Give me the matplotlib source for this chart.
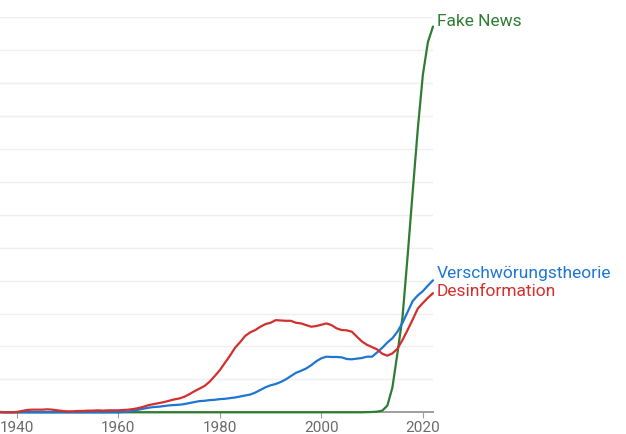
from matplotlib import pyplot as plt
import numpy as np

# yearly values (arbitrary units, 1 unit = 1 gridline)
years = np.arange(1936, 2023)

desinformation = [
    0.0, 0.0, 0.0, 0.0, 0.01, 0.04, 0.07, 0.08, 0.08, 0.08,      # 1936-1945
    0.09, 0.08, 0.06, 0.04, 0.03, 0.03, 0.04, 0.04, 0.05, 0.05,  # 1946-1955
    0.06, 0.05, 0.06, 0.06, 0.06, 0.07, 0.08, 0.10, 0.13, 0.17,  # 1956-1965
    0.22, 0.25, 0.28, 0.31, 0.35, 0.39, 0.42, 0.47, 0.55, 0.64,  # 1966-1975
    0.72, 0.80, 0.93, 1.10, 1.28, 1.50, 1.72, 1.96, 2.13, 2.32,  # 1976-1985
    2.43, 2.50, 2.60, 2.68, 2.72, 2.80, 2.79, 2.78, 2.78, 2.72,  # 1986-1995
    2.70, 2.65, 2.60, 2.62, 2.66, 2.70, 2.65, 2.55, 2.50, 2.49,  # 1996-2005
    2.45, 2.30, 2.15, 2.05, 1.98, 1.91, 1.78, 1.72, 1.79, 1.93,  # 2006-2015
    2.20, 2.50, 2.82, 3.15, 3.32, 3.48, 3.62,                    # 2016-2022
]

verschwoerung = [
    0.02, 0.01, 0.0, 0.0, 0.0, 0.0, 0.0, 0.0, 0.0, 0.0,          # 1936-1945
    0.0, 0.0, 0.0, 0.0, 0.0, 0.0, 0.0, 0.0, 0.0, 0.0,            # 1946-1955
    0.0, 0.0, 0.0, 0.0, 0.0, 0.01, 0.02, 0.05, 0.08, 0.11,       # 1956-1965
    0.14, 0.16, 0.17, 0.19, 0.21, 0.22, 0.23, 0.25, 0.28, 0.31,  # 1966-1975
    0.34, 0.35, 0.37, 0.38, 0.40, 0.41, 0.43, 0.45, 0.48, 0.51,  # 1976-1985
    0.54, 0.60, 0.68, 0.76, 0.82, 0.86, 0.92, 1.00, 1.10, 1.20,  # 1986-1995
    1.26, 1.33, 1.43, 1.55, 1.64, 1.69, 1.68, 1.68, 1.67, 1.62,  # 1996-2005
    1.61, 1.63, 1.65, 1.69, 1.69, 1.82, 1.96, 2.12, 2.25, 2.45,  # 2006-2015
    2.72, 3.05, 3.38, 3.55, 3.68, 3.85, 4.01,                    # 2016-2022
]

fake_news = [0.0] * 73 + [
    0.005, 0.01, 0.02, 0.05, 0.2, 0.75, 1.8,                     # 2009-2015
    2.9, 4.75, 6.7, 8.6, 10.25, 11.25, 11.72,                    # 2016-2022
]

series = [
    ('Fake News', fake_news, '#2e7d32', 5),
    ('Verschwörungstheorie', verschwoerung, '#1e76d3', 7),
    ('Desinformation', desinformation, '#d32f2f', 2),
]
draw_order = [1, 2, 0]  # blue, red, green on top

plt.rcParams["font.family"] = "Roboto"
plt.rcParams["figure.facecolor"] = 'white'

fig = plt.figure(figsize=(6.26, 4.34), dpi=100)
W, H = 626, 434
ax = fig.add_axes([0, (H - 412.3) / H, 433 / W, (412.3 - 17.3) / H])

for i in draw_order:
    name, vals, col, dy = series[i]
    ax.plot(years, vals, color=col, lw=1.6, solid_capstyle='round',
            solid_joinstyle='round', clip_on=False, zorder=3 + i)

for name, vals, col, dy in series:
    ax.annotate(name, (years[-1], vals[-1]), xytext=(4, dy),
                textcoords='offset pixels', color=col, fontsize=12.5,
                va='center', ha='left', annotation_clip=False)

# light gridlines
for g in range(1, 13):
    ax.axhline(g, color='#efefef', lw=1.0, zorder=1)

ax.set_xlim(1936.7, 2022)
ax.set_ylim(0, 12)
ax.set_yticks([])
ax.set_xticks([1940, 1960, 1980, 2000, 2020])
ax.tick_params(axis='x', colors='#9e9e9e', length=4, width=0.8,
               labelcolor='#6b6b6b', labelsize=11, pad=2.5)
for s in ['top', 'right', 'left']:
    ax.spines[s].set_visible(False)
ax.spines['bottom'].set_color('#9e9e9e')
ax.spines['bottom'].set_linewidth(1.4)
ax.spines['bottom'].set_zorder(2)
ax.patch.set_alpha(0)

plt.savefig('out.png', dpi=100)
